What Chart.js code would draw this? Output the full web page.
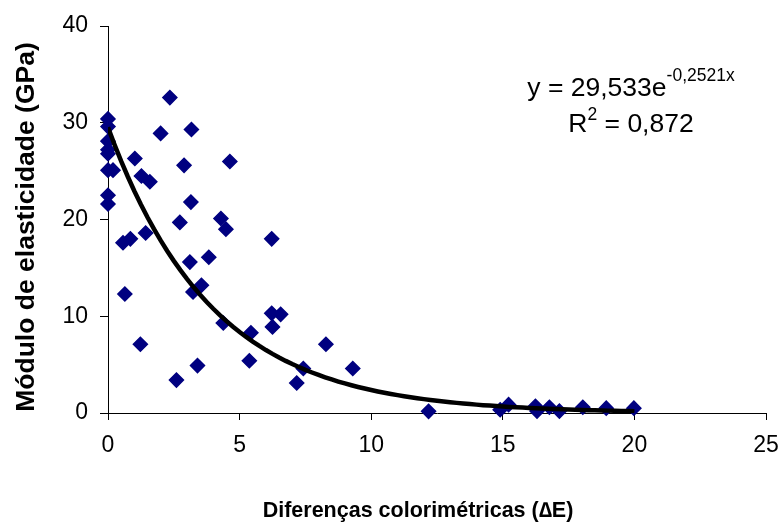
<!DOCTYPE html>
<html>
<head>
<meta charset="utf-8">
<script src="https://cdn.jsdelivr.net/npm/chart.js@4/dist/chart.umd.min.js"></script>
<style>
  html, body { margin: 0; padding: 0; background: #ffffff; }
  #wrap { width: 780px; height: 524px; position: relative; }
</style>
</head>
<body>
<div id="wrap"><canvas id="c" width="780" height="524"></canvas></div>
<script>
// Colour difference (ΔE) of each specimen
const deltaE = [
  0, 0, 0, 0, 0, 0, 0.19, 0, 0,
  2.35, 3.17, 2.0, 1.02, 4.63, 2.89, 1.27, 1.59, 3.15, 2.73, 4.29, 4.48,
  6.22, 0.57, 0.85, 1.43, 3.11, 3.83, 0.64, 3.55, 3.23, 6.22, 6.56, 6.25,
  4.38, 5.43, 1.23, 5.37, 3.40, 2.60, 8.28, 7.42, 7.17, 9.30,
  12.18, 14.9, 15.22, 16.24, 16.3, 16.77, 17.15, 18.04, 18.93, 19.98
];
// Modulus of elasticity (GPa) of each specimen
const modulus = [
  30.4, 29.6, 28.1, 27.2, 26.8, 25.1, 25.1, 22.5, 21.6,
  32.6, 29.3, 28.9, 26.3, 26.0, 25.6, 24.5, 23.9, 21.8, 19.7, 20.1, 19.0,
  18.0, 17.6, 18.0, 18.6, 15.6, 16.1, 12.3, 13.2, 12.5, 10.3, 10.2, 8.9,
  9.3, 8.3, 7.1, 5.4, 4.9, 3.4, 7.1, 4.6, 3.1, 4.6,
  0.17, 0.34, 0.86, 0.7, 0.2, 0.6, 0.2, 0.6, 0.5, 0.5
];
// Exponential fit y = a·e^(b·x)
const fitA = 29.533;
const fitB = -0.2521;
const fitR2 = '0,872';
const fitRange = [0, 20];
const xTicks = [0, 5, 10, 15, 20, 25];
const yTicks = [0, 10, 20, 30, 40];

const xTitle = 'Diferenças colorimétricas (\u2206E)';
const yTitle = 'Módulo de elasticidade (GPa)';

const scatterPts = deltaE.map((x, i) => ({ x: x, y: modulus[i] }));
const curvePts = [];
for (let x = fitRange[0]; x <= fitRange[1] + 1e-9; x += 0.25) {
  curvePts.push({ x: x, y: fitA * Math.exp(fitB * x) });
}

const FONT = '"Liberation Sans", Arial, sans-serif';

const annotations = {
  id: 'annotations',
  afterDraw(chart) {
    const ctx = chart.ctx;
    ctx.save();
    ctx.fillStyle = '#000';
    // axis titles
    ctx.font = 'bold 21.5px ' + FONT;
    ctx.textAlign = 'center';
    ctx.textBaseline = 'alphabetic';
    ctx.fillText(xTitle, 418, 517);

    ctx.save();
    ctx.translate(27, 227);
    ctx.rotate(-Math.PI / 2);
    ctx.font = 'bold 26.5px ' + FONT;
    ctx.textBaseline = 'middle';
    ctx.fillText(yTitle, 0, 0);
    ctx.restore();

    // fitted equation
    const cx = 631;
    const big = '26.5px ' + FONT, small = '17.5px ' + FONT;
    const main1 = 'y = ' + fitA.toString().replace('.', ',') + 'e';
    const sup1 = fitB.toString().replace('.', ',') + 'x';
    ctx.textAlign = 'left';
    ctx.font = big;
    const w1 = ctx.measureText(main1).width;
    ctx.font = small;
    const ws1 = ctx.measureText(sup1).width;
    let x0 = cx - (w1 + ws1) / 2;
    ctx.font = big;
    ctx.fillText(main1, x0, 96);
    ctx.font = small;
    ctx.fillText(sup1, x0 + w1, 81);

    const r = 'R', r2 = '2', rest = ' = ' + fitR2;
    ctx.font = big;
    const wr = ctx.measureText(r).width;
    const wrest = ctx.measureText(rest).width;
    ctx.font = small;
    const wr2 = ctx.measureText(r2).width;
    x0 = cx - (wr + wr2 + wrest) / 2;
    ctx.font = big;
    ctx.fillText(r, x0, 132);
    ctx.font = small;
    ctx.fillText(r2, x0 + wr, 120);
    ctx.font = big;
    ctx.fillText(rest, x0 + wr + wr2, 132);
    ctx.restore();
  }
};

new Chart(document.getElementById('c'), {
  type: 'scatter',
  data: {
    datasets: [
      {
        type: 'line',
        data: curvePts,
        borderColor: '#000000',
        borderWidth: 4.5,
        pointRadius: 0,
        fill: false,
        tension: 0
      },
      {
        data: scatterPts,
        pointStyle: 'rectRot',
        pointRadius: 7,
        pointHoverRadius: 7,
        backgroundColor: '#000080',
        borderColor: '#000080',
        borderWidth: 1.5,
        clip: false
      }
    ]
  },
  options: {
    responsive: false,
    animation: false,
    events: [],
    layout: { padding: { left: 0, right: 14, top: 26, bottom: 0 } },
    plugins: { legend: { display: false }, tooltip: { enabled: false } },
    scales: {
      x: {
        type: 'linear',
        min: 0, max: 25,
        afterFit(s) { s.height = 111; s.paddingLeft = 0; s.paddingRight = 0; },
        afterBuildTicks(s) { s.ticks = xTicks.map(v => ({ value: v })); },
        border: { display: true, color: '#000', width: 1 },
        grid: { drawOnChartArea: false, drawTicks: true, tickLength: 7, color: '#000' },
        ticks: { color: '#000', font: { family: FONT, size: 23 }, padding: 12, maxRotation: 0 }
      },
      y: {
        type: 'linear',
        min: 0, max: 40,
        afterFit(s) { s.width = 108; s.paddingTop = 0; s.paddingBottom = 0; },
        afterBuildTicks(s) { s.ticks = yTicks.map(v => ({ value: v })); },
        border: { display: true, color: '#000', width: 1 },
        grid: { drawOnChartArea: false, drawTicks: true, tickLength: 8, color: '#000' },
        ticks: { color: '#000', font: { family: FONT, size: 23 }, padding: 12 }
      }
    }
  },
  plugins: [annotations]
});
</script>
</body>
</html>
